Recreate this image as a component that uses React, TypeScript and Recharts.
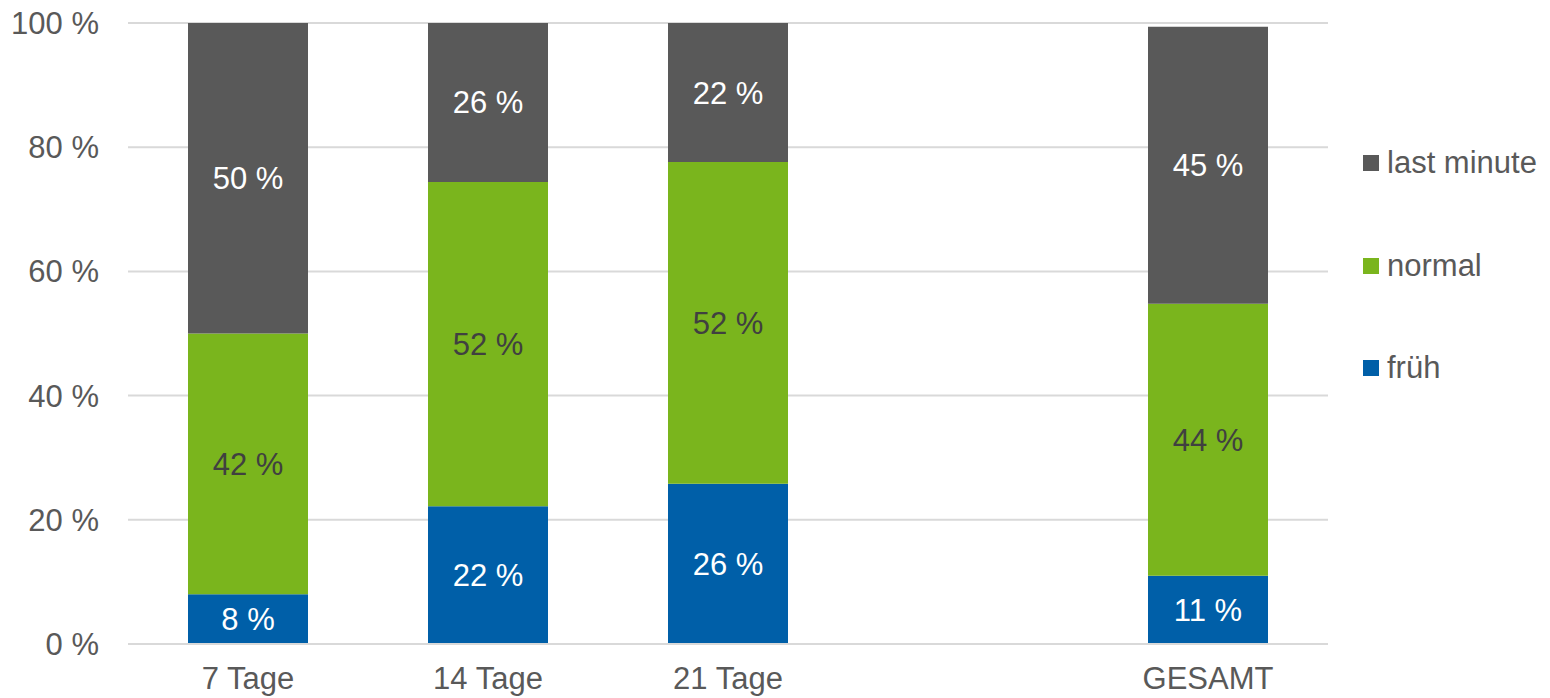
import { Bar, BarChart, CartesianGrid, LabelList, Legend, XAxis, YAxis } from "recharts";

const categories = ["7 Tage", "14 Tage", "21 Tage", "", "GESAMT"];
const frueh = [8, 22.2, 25.8, null, 11];
const normal = [42, 52.2, 51.8, null, 43.8];
const lastMinute = [50, 25.6, 22.4, null, 44.6];
const yTicks = [0, 20, 40, 60, 80, 100];

const data = categories.map((name, i) => ({
  name,
  frueh: frueh[i],
  normal: normal[i],
  lastMinute: lastMinute[i],
}));

const FONT = "'Liberation Sans', Arial, sans-serif";
const FONT_SIZE = 31;

const legendItems = [
  { label: "last minute", color: "#595959" },
  { label: "normal", color: "#7AB51D" },
  { label: "früh", color: "#005FA8" },
];

const fmt = (v: unknown) => (v == null || v === "" ? "" : `${Math.round(Number(v))} %`);

const CustomLegend = () => (
  <div style={{ fontFamily: FONT, fontSize: FONT_SIZE, color: "#595959" }}>
    {legendItems.map((item) => (
      <div
        key={item.label}
        style={{ height: 102.5, display: "flex", alignItems: "center", whiteSpace: "nowrap" }}
      >
        <span
          style={{ display: "inline-block", width: 16, height: 16, background: item.color, marginRight: 8 }}
        />
        {item.label}
      </div>
    ))}
  </div>
);

export default function App() {
  return (
    <div style={{ position: "absolute", left: 0, top: 0, width: 1550, height: 698, background: "#fff" }}>
      <BarChart
        width={1550}
        height={698}
        data={data}
        margin={{ top: 23, right: 222, left: 0, bottom: 0 }}
        barSize={120}
      >
        <CartesianGrid vertical={false} stroke="#d9d9d9" strokeWidth={2} />
        <XAxis
          dataKey="name"
          height={54}
          tickLine={false}
          axisLine={{ stroke: "#d9d9d9", strokeWidth: 2 }}
          tickMargin={17}
          tick={{ fill: "#595959", fontSize: FONT_SIZE, fontFamily: FONT }}
          interval={0}
        />
        <YAxis
          width={128}
          domain={[0, 100]}
          ticks={yTicks}
          tickFormatter={(v) => `${v} %`}
          tickLine={false}
          axisLine={false}
          tickMargin={23}
          tick={{ fill: "#595959", fontSize: FONT_SIZE, fontFamily: FONT }}
        />
        <Legend
          layout="vertical"
          align="center"
          verticalAlign="middle"
          content={<CustomLegend />}
          wrapperStyle={{ left: 1363, top: 112, width: 190 }}
        />
        <Bar dataKey="frueh" stackId="a" fill="#005FA8" isAnimationActive={false}>
          <LabelList dataKey="frueh" position="center" formatter={fmt} fill="#ffffff" fontSize={FONT_SIZE} fontFamily={FONT} />
        </Bar>
        <Bar dataKey="normal" stackId="a" fill="#7AB51D" isAnimationActive={false}>
          <LabelList dataKey="normal" position="center" formatter={fmt} fill="#404040" fontSize={FONT_SIZE} fontFamily={FONT} />
        </Bar>
        <Bar dataKey="lastMinute" stackId="a" fill="#595959" isAnimationActive={false}>
          <LabelList dataKey="lastMinute" position="center" formatter={fmt} fill="#ffffff" fontSize={FONT_SIZE} fontFamily={FONT} />
        </Bar>
      </BarChart>
    </div>
  );
}
